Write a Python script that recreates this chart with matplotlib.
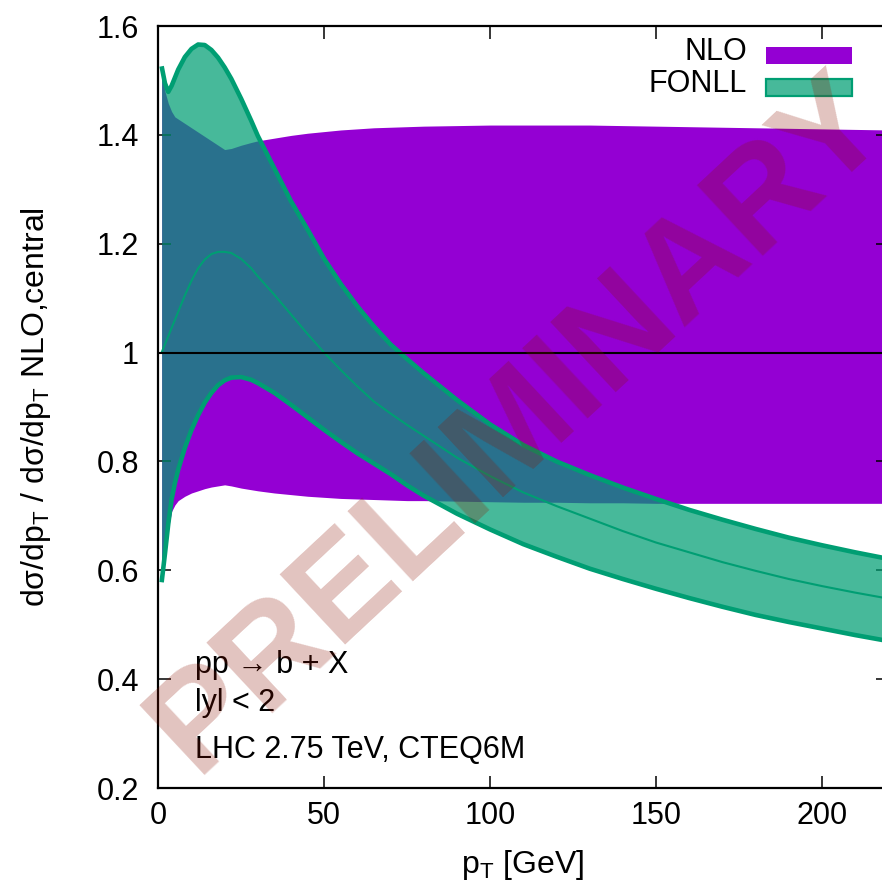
import matplotlib
matplotlib.use('Agg')
import matplotlib.pyplot as plt
from matplotlib.patches import Rectangle

plt.rcParams['font.family'] = ['Liberation Sans', 'DejaVu Sans']
plt.rcParams['mathtext.fontset'] = 'custom'
plt.rcParams['mathtext.rm'] = 'Liberation Sans'
plt.rcParams['mathtext.it'] = 'Liberation Sans:italic'

# pT grid [GeV] and ratio bands
pt = [1, 2, 3, 4, 5, 6, 8, 10, 12, 14, 16, 18, 20, 22, 25, 28, 30, 35, 40, 45,
      50, 55, 60, 65, 70, 75, 80, 90, 100, 110, 120, 130, 140, 150, 160, 170,
      180, 190, 200, 210, 220]

nlo_lo = [0.578, 0.625, 0.675, 0.708, 0.72, 0.728, 0.736, 0.742, 0.746, 0.75,
          0.753, 0.755, 0.757, 0.755, 0.751, 0.748, 0.746, 0.742, 0.739, 0.736,
          0.734, 0.732, 0.731, 0.73, 0.729, 0.728, 0.728, 0.727, 0.726, 0.725,
          0.725, 0.724, 0.724, 0.723, 0.723, 0.723, 0.723, 0.723, 0.723, 0.723, 0.723]
nlo_hi = [1.52, 1.48, 1.458, 1.443, 1.433, 1.429, 1.421, 1.413, 1.405, 1.397,
          1.389, 1.381, 1.373, 1.375, 1.381, 1.386, 1.389, 1.394, 1.399, 1.403,
          1.406, 1.409, 1.411, 1.413, 1.414, 1.415, 1.416, 1.417, 1.418, 1.418,
          1.418, 1.418, 1.417, 1.416, 1.415, 1.414, 1.413, 1.412, 1.411, 1.41, 1.409]

fonll_lo = [0.578, 0.63, 0.685, 0.73, 0.76, 0.785, 0.825, 0.858, 0.885, 0.908,
            0.926, 0.94, 0.949, 0.954, 0.955, 0.95, 0.944, 0.926, 0.904, 0.881,
            0.858, 0.836, 0.815, 0.796, 0.777, 0.756, 0.737, 0.704, 0.675, 0.648,
            0.625, 0.603, 0.584, 0.566, 0.549, 0.533, 0.518, 0.505, 0.493, 0.481, 0.47]
fonll_c = [1.0, 1.015, 1.03, 1.045, 1.06, 1.075, 1.105, 1.132, 1.155, 1.171,
           1.181, 1.185, 1.185, 1.183, 1.172, 1.155, 1.14, 1.106, 1.07, 1.034,
           1.0, 0.968, 0.938, 0.91, 0.888, 0.867, 0.847, 0.807, 0.773, 0.743,
           0.718, 0.695, 0.672, 0.651, 0.633, 0.615, 0.599, 0.584, 0.571, 0.559, 0.548]
fonll_hi = [1.526, 1.495, 1.479, 1.49, 1.505, 1.52, 1.543, 1.558, 1.566, 1.565,
            1.556, 1.542, 1.524, 1.503, 1.466, 1.426, 1.398, 1.338, 1.278, 1.226,
            1.172, 1.126, 1.085, 1.048, 1.015, 0.988, 0.962, 0.913, 0.868, 0.83,
            0.80, 0.775, 0.752, 0.731, 0.711, 0.693, 0.676, 0.66, 0.646, 0.633, 0.621]

labels = ['NLO', 'FONLL']
info = ['pp \u2192 b + X', 'lyl < 2', 'LHC 2.75 TeV, CTEQ6M']
yticks = [0.2, 0.4, 0.6, 0.8, 1.0, 1.2, 1.4, 1.6]
xticks = [0, 50, 100, 150, 200]

purple = '#9400d3'
green = '#009e73'
fs = 22

fig = plt.figure(figsize=(8.82, 8.82), dpi=100)
# plot frame runs slightly past the right edge of the image, as in the original
ax = fig.add_axes([158.3/882, 94/882, 730/882, 762/882])

ax.fill_between(pt, nlo_lo, nlo_hi, color=purple, lw=0, zorder=1)
ax.fill_between(pt, fonll_lo, fonll_hi, color=green, alpha=0.72, lw=0, zorder=2)
ax.plot(pt, fonll_hi, color=green, lw=3.3, zorder=3, solid_capstyle='butt')
ax.plot(pt, fonll_lo, color=green, lw=3.3, zorder=3, solid_capstyle='butt')
ax.plot(pt, fonll_c, color=green, lw=1.5, zorder=3)
ax.axhline(1.0, color='black', lw=1.5, zorder=4)

ax.set_xlim(0, 220)
ax.set_ylim(0.2, 1.6)
ax.set_xticks(xticks)
ax.set_yticks(yticks)
ax.set_yticklabels(['%g' % v for v in yticks])
ax.tick_params(direction='in', length=9, width=1.1, top=True, right=True,
               labelsize=fs, colors='black')
ax.tick_params(axis='y', pad=14)
ax.tick_params(axis='x', pad=9)
for s in ax.spines.values():
    s.set_linewidth(1.6)

fig.text(36/882, 1 - 407/882, 'd\u03c3/dp$_\\mathrm{T}$ / d\u03c3/dp$_\\mathrm{T}$ NLO,central',
         rotation=90, ha='center', va='center', fontsize=23)
fig.text(523/882, 9/882, 'p$_\\mathrm{T}$ [GeV]', ha='center', va='baseline', fontsize=23)

# key: text right aligned, sample box to its right
for i, (lab, fc, a) in enumerate(zip(labels, [purple, green], [1.0, 0.72])):
    yb = 0.9554 - i*0.042
    ax.text(0.8064, yb, lab, transform=ax.transAxes, ha='right', va='baseline', fontsize=fs, zorder=6)
    ax.add_patch(Rectangle((0.8325, yb - 0.0053), 0.1178, 0.0225, transform=ax.transAxes,
                           facecolor=fc, alpha=a, lw=0, zorder=6, clip_on=False))
    if lab == 'FONLL':
        ax.add_patch(Rectangle((0.8325, yb - 0.0053), 0.1178, 0.0225, transform=ax.transAxes,
                               facecolor='none', edgecolor=green, lw=1.6, zorder=6, clip_on=False))

for t, yb in zip(info, [0.4116, 0.3417, 0.2553]):
    ax.text(11, yb, t, ha='left', va='baseline', fontsize=fs, zorder=6)

ax.text(0.495, 0.477, 'PRELIMINARY', transform=ax.transAxes, rotation=43,
        rotation_mode='anchor', ha='center', va='center', fontsize=100,
        fontweight='bold', color=(0.55, 0.08, 0.0), alpha=0.25, zorder=10)

fig.savefig('out.png', dpi=100)
